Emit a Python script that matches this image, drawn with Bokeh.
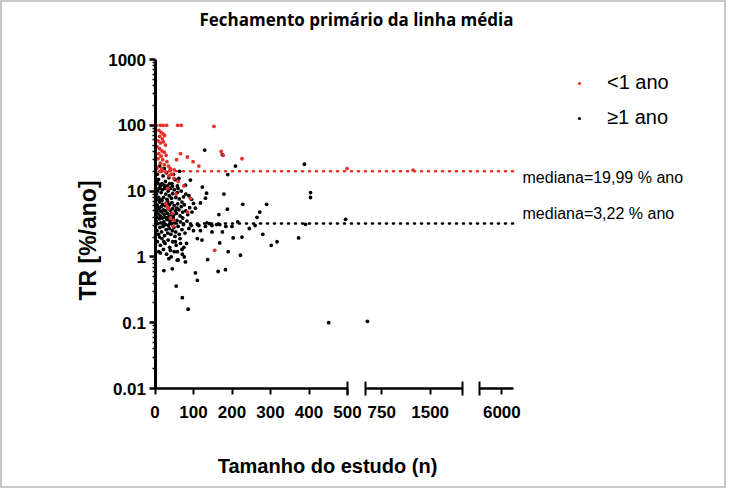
import numpy as np
from bokeh.embed import file_html
from bokeh.models import (FixedTicker, Label, Legend, LegendItem, LinearAxis,
                          PrintfTickFormatter, Range1d)
from bokeh.plotting import figure
from bokeh.resources import INLINE

# TR (%/ano) against study size n, two follow-up groups
red_n = [4, 14, 21, 30, 59, 68, 153,
         10, 16, 21, 12, 19, 25, 8, 14, 22, 27, 6, 12, 18, 24, 10, 16, 29, 8, 20, 31,
         14, 24, 35, 6, 18, 40, 50, 12, 28, 45, 36,
         56, 66, 84, 99, 114, 172, 177, 226, 42, 49, 92, 36, 32, 45, 49, 47, 85, 155,
         499, 1236, 60, 75, 33, 55, 28, 40]
red_tr = [100, 100, 100, 100, 100, 100, 96,
          84, 78, 74, 68, 62, 70, 58, 54, 56, 50, 47, 44, 41, 39, 37, 34, 35, 31, 30, 28,
          26.5, 25, 24, 23, 22, 22, 21, 20, 19.5, 18, 17,
          30, 37, 33, 28, 24, 40, 35, 31, 18, 15.6, 7.7, 5.4, 5.8, 4.6, 3.6, 2.9, 4.8, 1.26,
          22, 20.9, 14, 12, 11, 9, 6.5, 3.9]

black_n = [3, 6, 9, 12, 15, 18, 21, 24, 27, 30, 33, 36, 40, 44, 48, 52, 58, 64, 8, 14, 26, 38, 5, 20,
           2, 4, 7, 9, 11, 13, 16, 19, 22, 25, 28, 31, 34, 37, 40, 43, 46, 50, 54, 58, 63, 68, 74, 80,
           6, 18, 29, 45, 60, 88, 95,
           2, 4, 6, 8, 10, 12, 14, 16, 18, 20, 22, 24, 26, 28, 30, 32, 34, 36, 38, 40, 42, 44, 46, 48,
           50, 53, 56, 59, 62, 65, 68, 72, 76, 80, 85, 90, 96, 5, 13, 27, 33, 47, 57, 70, 100, 105,
           3, 5, 7, 9, 11, 13, 15, 17, 19, 21, 23, 25, 27, 29, 31, 33, 35, 37, 39, 41, 43, 45, 47, 49,
           51, 54, 57, 60, 63, 66, 70, 74, 78, 83, 88, 94, 12, 36, 52, 72,
           100, 110, 114, 118, 122, 110, 131, 135, 148, 148, 160, 168, 175, 200, 215, 245, 260, 280,
           142, 184,
           6, 10, 14, 18, 22, 26, 30, 34, 38, 42, 46, 50, 55, 60, 65, 70, 76, 82, 14, 36, 58, 79, 40,
           58, 71, 75, 66, 53, 23,
           23, 45, 55, 71, 86, 105, 110, 137, 164, 183,
           129, 175, 209, 189, 123, 134, 179, 131, 79, 92, 62, 166, 188, 228, 290, 272, 265, 118,
           190, 168, 203, 226, 222, 302, 317, 373, 451, 388, 404, 404, 495, 391, 530]
black_tr = [22, 18, 15, 24, 20, 13, 17, 22, 14, 19, 12, 16, 21, 13, 18, 15, 12, 20, 13, 12, 12, 13, 14, 12.5,
            11, 9, 10, 8, 11, 7.5, 9.5, 10.5, 8, 11, 9, 7.5, 10, 8.5, 11, 7.8, 9.2, 10.5, 8, 9.5, 7.6,
            10, 8.2, 9,
            7.5, 7.2, 11.5, 11.8, 11, 8.5, 7.5,
            6.5, 5, 6, 4.5, 5.5, 6.8, 4.2, 5.8, 4.8, 6.3, 5.2, 4.4, 6, 5, 6.6, 4.6, 5.6, 4.1, 6.2, 5.1,
            4.5, 6.7, 5.4, 4.3, 6, 5, 4.6, 6.4, 5.2, 4.2, 5.8, 4.8, 6.2, 5, 4.4, 5.6, 4.8, 4, 5, 4,
            6.9, 4, 5.5, 6.8, 6.5, 5.5,
            3.5, 2.5, 3.2, 2.2, 3.8, 2.8, 3.3, 2.4, 3.9, 2.9, 3.4, 2.1, 3.1, 2.6, 3.7, 2.3, 3, 2.7, 3.5,
            2.2, 3.2, 2.5, 3.8, 2.8, 3.3, 2.4, 3.6, 2.9, 2.2, 3.4, 2.6, 3.1, 2.3, 3.5, 2.7, 3, 2, 3.95,
            2.05, 3.9,
            2.5, 3.1, 3, 2.5, 1.8, 1.9, 2.9, 3.3, 3, 2.4, 3.1, 3.1, 2.4, 2.9, 3.4, 2.7, 3, 2.2,
            3.2, 2.9,
            1.7, 1.2, 1.5, 1.9, 1.3, 1.6, 1.1, 1.8, 1.4, 1, 1.7, 1.2, 1.5, 0.9, 1.9, 1.3, 1, 1.6, 1.15,
            0.94, 0.89, 0.84, 1.26, 1.2, 1.1, 1.4, 1.6, 1.7, 1.7,
            0.62, 0.66, 0.36, 0.24, 0.16, 0.57, 0.44, 0.91, 0.6, 0.64,
            42, 35.6, 24, 17.8, 11.5, 9.3, 9, 7.8, 12.3, 14.7, 15.6, 4.4, 5.3, 6.3, 6.3, 4.8, 4, 6.6,
            1.2, 1.63, 1.94, 2, 1.06, 1.5, 1.7, 1.94, 0.1, 25.6, 9.5, 8, 3.73, 3.13, 0.105]

group_names = ["<1 ano", "≥1 ano"]
group_colors = ["#e8302b", "#000000"]
medians = [19.99, 3.22]

# the x axis is broken in three pieces
pieces = [(0, 500), (500, 2000), (5000, 6500)]
piece_ticks = [[0, 100, 200, 300, 400, 500], [750, 1500], [6000]]
piece_caps = [[500], [500, 2000], [5000]]
y_ticks = [0.01, 0.1, 1, 10, 100, 1000]
y_minor = [m * 10.0 ** k for k in range(-2, 3) for m in range(2, 10)]

# layout (pixels): the plot area is the whole canvas, the axes are drawn inside it
W, H = 726, 488
piece_px = [(154.5, 347), (365, 462), (479, 512.5)]
y_px = (388, 59)  # where 0.01 and 1000 sit, from the top
FONT = "Liberation Sans"


def piece_range(i):
    a, b = pieces[i]
    p0, p1 = piece_px[i]
    span = (b - a) / (p1 - p0) * W
    start = a - p0 / W * span
    return Range1d(start, start + span)


dec = (y_px[0] - y_px[1]) / (np.log10(y_ticks[-1]) - np.log10(y_ticks[0]))
y_top = 10 ** (np.log10(y_ticks[-1]) + y_px[1] / dec)
y_bot = 10 ** (np.log10(y_ticks[0]) - (H - y_px[0]) / dec)

p = figure(width=W, height=H, y_axis_type="log", x_range=piece_range(0),
           y_range=Range1d(y_bot, y_top), title=None,
           output_backend="svg", toolbar_location=None,
           min_border=0, min_border_left=0, min_border_right=0,
           min_border_top=0, min_border_bottom=0)
p.extra_x_ranges = {"s1": piece_range(1), "s2": piece_range(2)}
p.grid.visible = False
p.outline_line_color = "#c8c8c8"
p.outline_line_width = 3


def style_x(ax):
    ax.fixed_location = y_ticks[0]
    ax.axis_line_width = 2.5
    ax.major_tick_line_width = 2
    ax.major_tick_out = 6
    ax.major_tick_in = 0
    ax.minor_tick_line_width = 2
    ax.minor_tick_out = 7
    ax.minor_tick_in = 7
    ax.major_label_text_font = FONT
    ax.major_label_text_font_style = "bold"
    ax.major_label_text_font_size = "17px"
    ax.major_label_text_color = "black"
    ax.major_label_standoff = 10


ax0 = p.xaxis[0]
ax0.bounds = pieces[0]
ax0.ticker = FixedTicker(ticks=piece_ticks[0], minor_ticks=piece_caps[0])
style_x(ax0)

for i, name in [(1, "s1"), (2, "s2")]:
    ax = LinearAxis(x_range_name=name, bounds=pieces[i],
                    ticker=FixedTicker(ticks=piece_ticks[i], minor_ticks=piece_caps[i]))
    style_x(ax)
    p.add_layout(ax, "below")

yax = p.yaxis[0]
yax.fixed_location = pieces[0][0]
yax.bounds = (y_ticks[0], y_ticks[-1])
yax.ticker = FixedTicker(ticks=y_ticks, minor_ticks=y_minor)
yax.formatter = PrintfTickFormatter(format="%g")
yax.axis_line_width = 3
yax.major_tick_line_width = 2.5
yax.major_tick_out = 6
yax.major_tick_in = 0
yax.minor_tick_line_width = 1.5
yax.minor_tick_out = 3
yax.minor_tick_in = 0
yax.major_label_text_font = FONT
yax.major_label_text_font_style = "bold"
yax.major_label_text_font_size = "17px"
yax.major_label_text_color = "black"
yax.major_label_standoff = 3


def add_text(text, sx, sy, size, bold=False, font=FONT, align="left", angle=0.0):
    # sx, sy: pixels from the top-left corner of the canvas
    p.add_layout(Label(x=sx, y=H - sy, x_units="screen", y_units="screen", text=text,
                       angle=angle, text_align=align, text_baseline="middle",
                       text_font=font, text_font_style="bold" if bold else "normal",
                       text_font_size=size, text_color="black"))


add_text("Fechamento primário da linha média", 356, 19, "17px", bold=True,
         font="Open Sans", align="center")
add_text("TR [%/ano]", 87, 240, "23px", bold=True, align="center", angle=np.pi / 2)
add_text("Tamanho do estudo (n)", 327, 465, "20px", bold=True, align="center")

# points, black first so that red stays visible in the cloud
groups = [(red_n, red_tr), (black_n, black_tr)]
first_renderer = {}
for g in [1, 0]:
    n = np.array(groups[g][0], dtype=float)
    tr = np.array(groups[g][1], dtype=float)
    for i, (a, b) in enumerate(pieces):
        mask = (n >= a) & (n <= b) if i == 0 else (n > a) & (n <= b)
        if not mask.any():
            continue
        kw = {} if i == 0 else {"x_range_name": ["s1", "s2"][i - 1]}
        r = p.scatter(n[mask], tr[mask], marker="circle", size=3.8,
                      fill_color=group_colors[g], line_color=None, **kw)
        first_renderer.setdefault(g, r)

# median lines run from n=0 to the end of the last piece
x_end = pieces[0][0] + (piece_px[2][1] - piece_px[0][0]) * (pieces[0][1] - pieces[0][0]) / (piece_px[0][1] - piece_px[0][0])
for m, c in zip(medians, group_colors):
    p.line([pieces[0][0], x_end], [m, m], line_color=c, line_width=2.6,
           line_dash="1 6", line_cap="round")

for m, sy in zip(medians, [177, 213]):
    add_text("mediana=" + f"{m:.2f}".replace(".", ",") + " % ano", 522, sy, "16px")

legend = Legend(items=[LegendItem(label=group_names[g], renderers=[first_renderer[g]]) for g in [0, 1]],
                location=(575, H - 129), margin=0, padding=0, spacing=12,
                glyph_width=8, glyph_height=20, label_height=20, label_standoff=24,
                label_text_font=FONT, label_text_font_size="20px", label_text_color="black",
                border_line_color=None, background_fill_alpha=0)
p.add_layout(legend)

open("out.html", "w").write(file_html(p, INLINE))
